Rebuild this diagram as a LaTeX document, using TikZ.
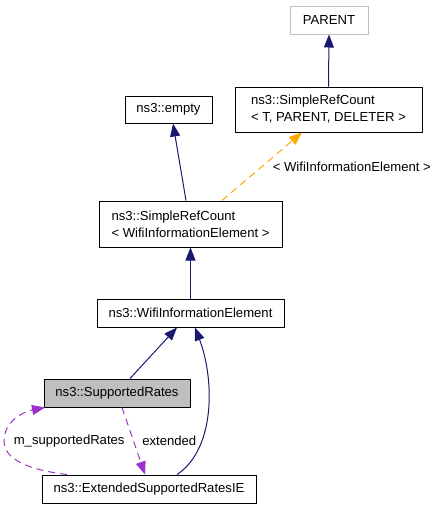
\documentclass[tikz,border=0pt]{standalone}
\usepackage{fontspec}
\setmainfont{Liberation Sans}
\usepackage{xcolor}
\usepackage{tikz}
\usetikzlibrary{positioning, arrows.meta}
\definecolor{edgeblue}{HTML}{191970}
\definecolor{edgeorange}{HTML}{FFA500}
\definecolor{edgepurple}{HTML}{9A32CD}
\definecolor{boxgray}{HTML}{BFBFBF}

\begin{document}
\begin{tikzpicture}[
            x=1pt, y=-1pt,
            font=\fontsize{13.1}{17}\selectfont,
            klass/.style={rectangle, draw=black, line width=1pt, fill=white, minimum height=28pt, align=left, inner sep=0pt},
            external/.style={klass, draw=boxgray},
            current/.style={klass, fill=boxgray},
            inherit/.style={-{Triangle[length=13pt, width=10pt]}, draw=edgeblue, line width=1pt},
            templ/.style={-{Triangle[length=13pt, width=10pt]}, draw=edgeorange, line width=1pt, dash pattern=on 7pt off 5pt},
            usage/.style={-{Triangle[length=13pt, width=10pt]}, draw=edgepurple, line width=1pt, dash pattern=on 7pt off 5pt}
        ]
        \useasboundingbox (0,0) rectangle (440,509);

        \node[external, minimum width=78pt] (parent) at (329,20) {PARENT};
        \node[klass, minimum width=187pt, minimum height=45pt] (srct) at (328.5,109.5) {ns3::SimpleRefCount\\< T, PARENT, DELETER >};
        \node[klass, minimum width=87pt, minimum height=27pt] (empty) at (168.5,109.5) {ns3::empty};
        \node[klass, minimum width=183pt, minimum height=46pt] (srcw) at (190.5,224) {ns3::SimpleRefCount\\< WifiInformationElement >};
        \node[klass, minimum width=187pt] (wie) at (190.5,313) {ns3::WifiInformationElement};
        \node[current, minimum width=146pt] (sr) at (117,393) {ns3::SupportedRates};
        \node[klass, minimum width=214pt] (esr) at (149,489) {ns3::ExtendedSupportedRatesIE};

        \draw[inherit] (srct.north) -- (parent.south);
        \draw[inherit] ([xshift=-4.5pt]srcw.north) -- ([xshift=4.5pt]empty.south);
        \draw[templ] ([xshift=31.5pt]srcw.north) -- node[right=7pt] (lbltempl) {< WifiInformationElement >} ([xshift=-26.5pt]srct.south);
        \draw[inherit] (wie.north) -- (srcw.south);
        \draw[inherit] ([xshift=13pt]sr.north) -- ([xshift=-13.5pt]wie.south);
        \draw[inherit] ([xshift=28pt]esr.north) .. controls +(38,-25) and +(20,53) .. ([xshift=4.5pt]wie.south);
        \draw[usage] ([xshift=5pt]sr.south) -- node[right=5pt] (lblext) {extended} ([xshift=-4pt]esr.north);
        \draw[usage] ([xshift=-82pt]esr.north) .. controls (30,470) and (4,460) .. (4,441)
            node[right=6pt] (lblm) {m\_supportedRates}
            .. controls (4,422) and (22,412) .. ([xshift=-72pt]sr.south);

    \end{tikzpicture}
\end{document}
